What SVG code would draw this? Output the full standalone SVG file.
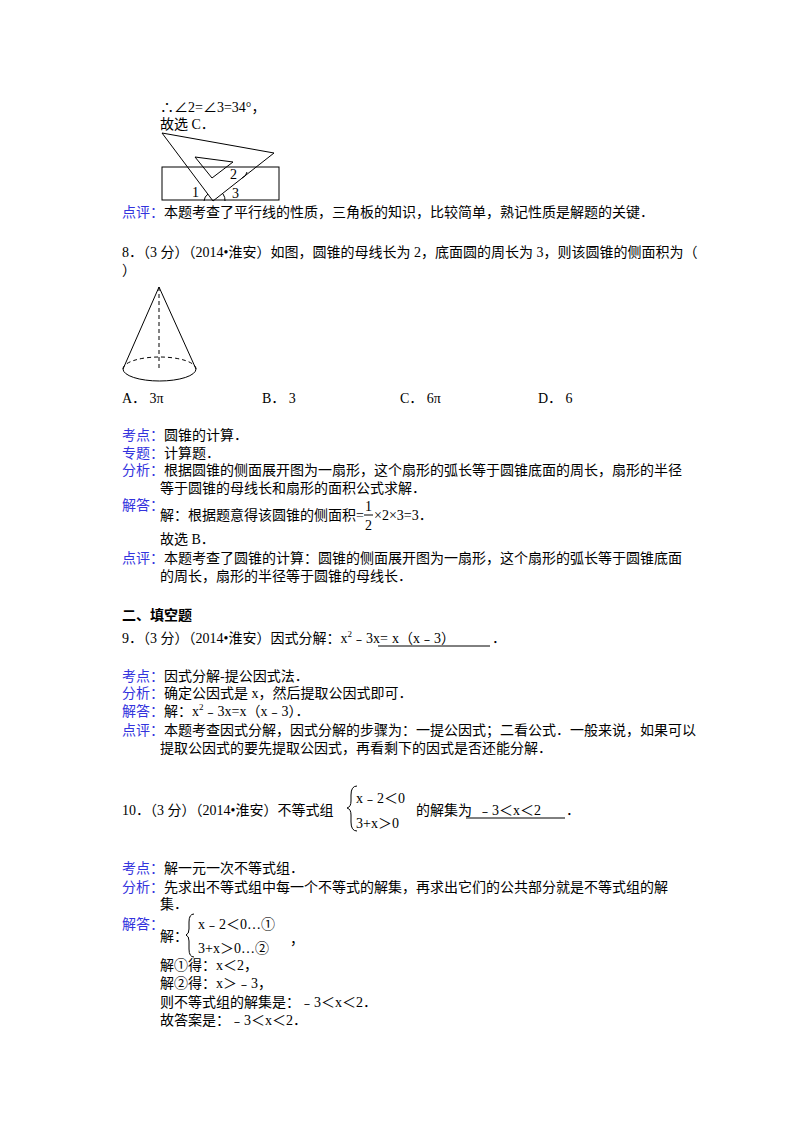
<svg xmlns="http://www.w3.org/2000/svg" width="800" height="1132" viewBox="0 0 800 1132">
<style>
text{font-family:"Liberation Serif","Noto Sans CJK SC",serif;font-size:14px;fill:#000}
.b{fill:#3333dd}
.s{font-size:9px}
.f{fill:none;stroke:#000;stroke-width:1}
.u{stroke:#000;stroke-width:1}
</style>
<rect width="800" height="1132" fill="#fff"/>
<text x="160" y="112">∴∠2=∠3=34°，</text>
<text x="160" y="129">故选 C．</text>
<g id="fig1">
<rect class="f" x="162" y="167" width="117" height="33"/>
<polygon class="f" points="162,133 274,153 213,201"/>
<polygon class="f" points="195,157 233,162 212,178"/>
<path class="f" d="M204,201 A10,10 0 0 1 208,194 M223,194 A10,10 0 0 1 225,201 M242,178 A8,8 0 0 0 247,172"/>
<text x="192" y="197" font-size="12">1</text>
<text x="230" y="179" font-size="12">2</text>
<text x="232" y="198" font-size="12">3</text>
</g>
<text x="122" y="217"><tspan class="b">点评：</tspan>本题考查了平行线的性质，三角板的知识，比较简单，熟记性质是解题的关键．</text>
<text x="122" y="257">8．（3 分）（2014•淮安）如图，圆锥的母线长为 2，底面圆的周长为 3，则该圆锥的侧面积为（</text>
<text x="122" y="275">）</text>
<g id="cone">
<path class="f" d="M123,369 L159,287 L196,369"/>
<path class="f" stroke-dasharray="4,3" d="M159,287 L159,370 M123,369 A36.5,12 0 0 1 196,369"/>
<path class="f" d="M123,369 A36.5,12 0 0 0 196,369"/>
</g>
<text x="122" y="403">A．  3π</text>
<text x="262" y="403">B．  3</text>
<text x="400" y="403">C．  6π</text>
<text x="538" y="403">D．  6</text>
<text x="122" y="440"><tspan class="b">考点：</tspan>圆锥的计算．</text>
<text x="122" y="458"><tspan class="b">专题：</tspan>计算题．</text>
<text x="122" y="475"><tspan class="b">分析：</tspan>根据圆锥的侧面展开图为一扇形，这个扇形的弧长等于圆锥底面的周长，扇形的半径</text>
<text x="160" y="493">等于圆锥的母线长和扇形的面积公式求解．</text>
<text x="122" y="510" class="b">解答：</text>
<text x="160" y="520">解：根据题意得该圆锥的侧面积=</text>
<text x="365" y="511" font-size="13">1</text>
<line class="u" x1="364" y1="515" x2="373" y2="515"/>
<text x="365" y="530" font-size="13">2</text>
<text x="374" y="520">×2×3=3．</text>
<text x="160" y="544">故选 B．</text>
<text x="122" y="563"><tspan class="b">点评：</tspan>本题考查了圆锥的计算：圆锥的侧面展开图为一扇形，这个扇形的弧长等于圆锥底面</text>
<text x="160" y="581">的周长，扇形的半径等于圆锥的母线长．</text>
<text x="122" y="620" font-weight="bold">二、填空题</text>
<text x="122" y="643">9．（3 分）（2014•淮安）因式分解：x<tspan class="s" dy="-6">2</tspan><tspan dy="6">﹣3x=</tspan></text>
<text x="392" y="643">x（x﹣3）</text>
<line class="u" x1="378" y1="646" x2="490" y2="646"/>
<text x="492" y="643">．</text>
<text x="122" y="681"><tspan class="b">考点：</tspan>因式分解-提公因式法．</text>
<text x="122" y="698"><tspan class="b">分析：</tspan>确定公因式是 x，然后提取公因式即可．</text>
<text x="122" y="716"><tspan class="b">解答：</tspan>解：x<tspan class="s" dy="-6">2</tspan><tspan dy="6">﹣3x=x（x﹣3）．</tspan></text>
<text x="122" y="735"><tspan class="b">点评：</tspan>本题考查因式分解，因式分解的步骤为：一提公因式；二看公式．一般来说，如果可以</text>
<text x="160" y="753">提取公因式的要先提取公因式，再看剩下的因式是否还能分解．</text>
<text x="122" y="815">10．（3 分）（2014•淮安）不等式组</text>
<path class="f" d="M357,786 Q351,786 351,795 L351,801 Q351,807 347,808 Q351,809 351,815 L351,822 Q351,831 357,831"/>
<text x="356" y="803">x﹣2＜0</text>
<text x="356" y="828">3+x＞0</text>
<text x="416" y="815">的解集为</text>
<text x="478" y="815">﹣3＜x＜2</text>
<line class="u" x1="466" y1="818" x2="565" y2="818"/>
<text x="566" y="815">．</text>
<text x="122" y="873"><tspan class="b">考点：</tspan>解一元一次不等式组．</text>
<text x="122" y="892"><tspan class="b">分析：</tspan>先求出不等式组中每一个不等式的解集，再求出它们的公共部分就是不等式组的解</text>
<text x="160" y="909">集．</text>
<text x="122" y="929" class="b">解答：</text>
<text x="160" y="941">解：</text>
<path class="f" d="M194,914 Q189,914 189,922 L189,929 Q189,934 186,935 Q189,936 189,941 L189,949 Q189,957 194,957"/>
<text x="198" y="929">x﹣2＜0…①</text>
<text x="198" y="953">3+x＞0…②</text>
<text x="290" y="944">，</text>
<text x="160" y="970">解①得：x＜2，</text>
<text x="160" y="988">解②得：x＞﹣3，</text>
<text x="160" y="1007">则不等式组的解集是：﹣3＜x＜2．</text>
<text x="160" y="1025">故答案是：﹣3＜x＜2．</text>
</svg>
